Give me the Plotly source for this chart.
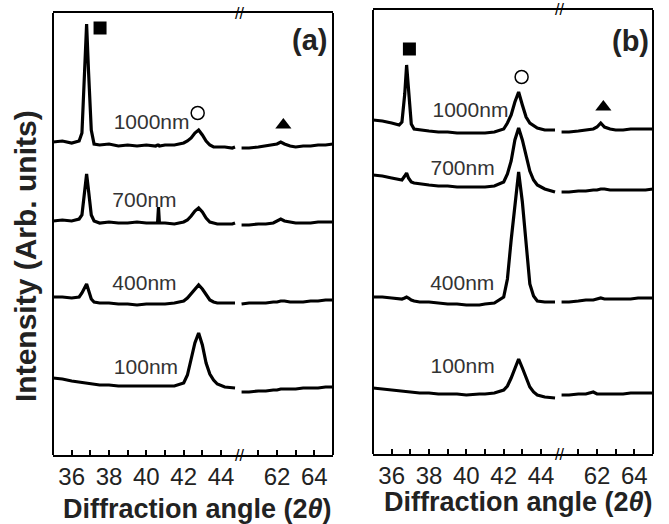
import plotly.graph_objects as go

# ---------------- data (2theta in degrees, intensity in arbitrary units incl. offsets) -------------
X_LEFT = [35.0, 35.5, 36.0, 36.4, 36.55, 36.7, 36.8, 36.9, 37.05, 37.2, 37.5, 38.0, 38.5, 39.0, 39.5,
          40.0, 40.5, 40.6, 40.65, 40.7, 41.0, 41.5, 42.0, 42.2, 42.4, 42.6, 42.8, 43.0, 43.2, 43.4,
          43.6, 43.8, 44.2, 44.6, 44.75]
X_RIGHT = [60.1, 60.5, 61.0, 61.4, 61.8, 62.0, 62.2, 62.4, 62.7, 63.0, 63.4, 63.8, 64.2, 64.6, 65.0]

# panel (a)
A1000_L = [313, 314, 312, 314, 322, 395, 431, 385, 325, 311, 310, 311, 309, 310, 309,
           310, 309, 310, 310, 309, 310, 310, 312, 314, 317, 322, 325, 320, 314, 310,
           308, 308, 308, 307, 308]
A1000_R = [307, 307, 308, 309, 310, 311, 313, 311, 309, 308, 309, 309, 310, 310, 311]
A700_L = [234, 235, 234, 236, 240, 265, 281, 265, 240, 234, 232, 233, 232, 232, 233,
          232, 232, 232, 248, 232, 232, 231, 233, 235, 239, 244, 247, 243, 237, 233,
          232, 231, 231, 231, 232]
A700_R = [230, 230, 231, 231, 232, 234, 236, 234, 233, 232, 232, 232, 233, 233, 233]
A400_L = [158, 158, 157, 158, 162, 168, 171, 165, 156, 153, 152, 152, 151, 151, 150,
          151, 151, 151, 151, 151, 151, 152, 154, 157, 161, 166, 170, 166, 160, 155,
          153, 152, 152, 152, 152]
A400_R = [151, 152, 152, 152, 153, 153, 154, 154, 153, 153, 153, 154, 154, 155, 155]
A100_L = [77, 76, 74, 73, 72, 72, 72, 71, 71, 71, 70, 70, 69, 69, 69,
          69, 69, 69, 69, 69, 69, 69, 72, 80, 96, 112, 122, 110, 92, 81,
          75, 71, 68, 67, 67]
A100_R = [63, 63, 64, 64, 65, 65, 66, 66, 66, 66, 67, 67, 67, 68, 68]

# panel (b)
B1000_L = [334, 333, 331, 329, 332, 360, 389, 362, 330, 325, 324, 323, 322, 322, 321,
           321, 321, 321, 321, 321, 321, 322, 325, 331, 339, 352, 362, 349, 337, 331,
           328, 326, 324, 324, 324]
B1000_R = [322, 322, 323, 324, 325, 327, 331, 327, 325, 324, 324, 325, 325, 325, 325]
B700_L = [279, 278, 276, 274, 274, 278, 281, 276, 272, 271, 270, 269, 268, 268, 267,
          267, 267, 267, 267, 267, 267, 268, 272, 280, 293, 314, 326, 314, 298, 283,
          274, 269, 265, 263, 262]
B700_R = [262, 262, 263, 263, 264, 264, 265, 265, 264, 264, 264, 264, 264, 264, 265]
B400_L = [157, 157, 156, 155, 155, 156, 157, 156, 154, 153, 152, 152, 151, 150, 150,
          149, 149, 149, 149, 149, 150, 151, 157, 175, 214, 252, 282, 252, 210, 170,
          158, 153, 152, 152, 152]
B400_R = [152, 152, 153, 154, 154, 155, 156, 155, 155, 155, 155, 155, 156, 156, 156]
B100_L = [66, 65, 64, 63, 63, 62, 62, 62, 62, 61, 61, 61, 60, 60, 60,
          59, 60, 60, 60, 60, 60, 61, 64, 68, 76, 86, 95, 86, 76, 67,
          62, 59, 57, 56, 56]
B100_R = [59, 59, 60, 60, 62, 60, 60, 60, 60, 60, 60, 61, 61, 61, 61]

SAMPLE_LABELS = ["1000nm", "700nm", "400nm", "100nm"]
A_LABEL_X = [40.28, 39.9, 39.9, 39.98]
A_LABEL_Y = [331, 253, 170, 86]
B_LABEL_X = [40.22, 39.8, 39.78, 39.8]
B_LABEL_Y = [342, 284, 169, 86]

# phase markers: square (left seg), circle (left seg), triangle (right seg)
A_SQUARE = [37.52, 427]
A_CIRCLE = [42.75, 342]
A_TRIANGLE = [62.34, 330]
B_SQUARE = [36.95, 405]
B_CIRCLE = [42.96, 377]
B_TRIANGLE = [62.34, 347]

TICKS_LEFT = [36, 37, 38, 39, 40, 41, 42, 43, 44]
TICKS_RIGHT = [61, 62, 63, 64]

# ---------------- figure -------------
W, H = 669, 524
FONT = "Arial, Liberation Sans, Helvetica, sans-serif"
fig = go.Figure()

panels = [
    dict(xl="x", xr="x2", y="y",
         left=[A1000_L, A700_L, A400_L, A100_L], right=[A1000_R, A700_R, A400_R, A100_R],
         lx=A_LABEL_X, ly=A_LABEL_Y, sq=A_SQUARE, ci=A_CIRCLE, tr=A_TRIANGLE),
    dict(xl="x3", xr="x4", y="y2",
         left=[B1000_L, B700_L, B400_L, B100_L], right=[B1000_R, B700_R, B400_R, B100_R],
         lx=B_LABEL_X, ly=B_LABEL_Y, sq=B_SQUARE, ci=B_CIRCLE, tr=B_TRIANGLE),
]

for p in panels:
    for yl, yr in zip(p["left"], p["right"]):
        fig.add_trace(go.Scatter(x=X_LEFT, y=yl, xaxis=p["xl"], yaxis=p["y"], mode="lines",
                                 line=dict(color="black", width=3.2), showlegend=False))
        fig.add_trace(go.Scatter(x=X_RIGHT, y=yr, xaxis=p["xr"], yaxis=p["y"], mode="lines",
                                 line=dict(color="black", width=3.2), showlegend=False))
    fig.add_trace(go.Scatter(x=p["lx"], y=p["ly"], text=SAMPLE_LABELS, mode="text",
                             xaxis=p["xl"], yaxis=p["y"],
                             textfont=dict(family=FONT, size=21, color="#333333"),
                             showlegend=False))
    fig.add_trace(go.Scatter(x=[p["sq"][0]], y=[p["sq"][1]], xaxis=p["xl"], yaxis=p["y"], mode="markers",
                             marker=dict(symbol="square", size=13, color="black"), showlegend=False))
    fig.add_trace(go.Scatter(x=[p["ci"][0]], y=[p["ci"][1]], xaxis=p["xl"], yaxis=p["y"], mode="markers",
                             marker=dict(symbol="circle-open", size=13, color="black",
                                         line=dict(width=1.5, color="black")), showlegend=False))
    fig.add_trace(go.Scatter(x=[p["tr"][0]], y=[p["tr"][1]], xaxis=p["xr"], yaxis=p["y"], mode="markers",
                             marker=dict(symbol="triangle-up", size=14, color="black"), showlegend=False))


def px(v):
    return v / W


def py(v):
    return 1 - v / H


common_x = dict(showline=True, linecolor="black", linewidth=2, mirror=True, showgrid=False,
                zeroline=False, ticks="inside", ticklen=5, tickwidth=1.5, tickcolor="black",
                ticklabelstandoff=-1,
                tickfont=dict(family=FONT, size=24, color="#222222"), fixedrange=True)

left_text = [str(t) if t % 2 == 0 else "" for t in TICKS_LEFT]
right_text = [str(t) if t % 2 == 0 else "" for t in TICKS_RIGHT]

ya_dom = [py(455), py(13)]
yb_dom = [py(454), py(10)]

fig.update_layout(
    width=W, height=H, margin=dict(l=0, r=0, t=0, b=0),
    paper_bgcolor="white", plot_bgcolor="white",
    xaxis=dict(domain=[px(53), px(239.7)], range=[35, 45], anchor="y",
               tickvals=TICKS_LEFT, ticktext=left_text, **common_x),
    xaxis2=dict(domain=[px(239.7), px(333)], range=[60, 65], anchor="y",
                tickvals=TICKS_RIGHT, ticktext=right_text, **common_x),
    xaxis3=dict(domain=[px(373), px(559.7)], range=[35, 45], anchor="y2",
                tickvals=TICKS_LEFT, ticktext=left_text, **common_x),
    xaxis4=dict(domain=[px(559.7), px(653)], range=[60, 65], anchor="y2",
                tickvals=TICKS_RIGHT, ticktext=right_text, **common_x),
    yaxis=dict(domain=ya_dom, range=[0, 442], showticklabels=False, ticks="", showgrid=False,
               zeroline=False, showline=False, anchor="x", fixedrange=True),
    yaxis2=dict(domain=yb_dom, range=[0, 444], showticklabels=False, ticks="", showgrid=False,
                zeroline=False, showline=False, anchor="x3", fixedrange=True),
)

# vertical frame lines
for xr_, yr_, xv in [("x domain", "y domain", 0), ("x2 domain", "y domain", 1),
                     ("x3 domain", "y2 domain", 0), ("x4 domain", "y2 domain", 1)]:
    fig.add_shape(type="line", xref=xr_, yref=yr_, x0=xv, x1=xv, y0=0, y1=1,
                  line=dict(color="black", width=2))

# axis break marks
for bx, ytop, ybot in [(239.7, 13, 455), (559.7, 10, 454)]:
    for yy in (ytop, ybot):
        fig.add_annotation(x=px(bx), y=py(yy), xref="paper", yref="paper", text="//",
                           showarrow=False, font=dict(family=FONT, size=16, color="black"),
                           xanchor="center", yanchor="middle", bgcolor="rgba(0,0,0,0)")

# panel letters
fig.add_annotation(x=px(309), y=py(40), xref="paper", yref="paper", text="<b>(a)</b>",
                   showarrow=False, font=dict(family=FONT, size=29, color="#222222"),
                   xanchor="center", yanchor="middle")
fig.add_annotation(x=px(630), y=py(41), xref="paper", yref="paper", text="<b>(b)</b>",
                   showarrow=False, font=dict(family=FONT, size=29, color="#222222"),
                   xanchor="center", yanchor="middle")

# axis titles
fig.add_annotation(x=px(26), y=py(256), xref="paper", yref="paper",
                   text="<b>Intensity (Arb. units)</b>", textangle=-90, showarrow=False,
                   font=dict(family=FONT, size=30, color="#222222"),
                   xanchor="center", yanchor="middle")
fig.add_annotation(x=px(197.5), y=py(509), xref="paper", yref="paper",
                   text="<b>Diffraction angle (2<i>θ</i>)</b>", showarrow=False,
                   font=dict(family=FONT, size=27, color="#222222"),
                   xanchor="center", yanchor="middle")
fig.add_annotation(x=px(518), y=py(502), xref="paper", yref="paper",
                   text="<b>Diffraction angle (2<i>θ</i>)</b>", showarrow=False,
                   font=dict(family=FONT, size=27, color="#222222"),
                   xanchor="center", yanchor="middle")

fig.write_html("out.html", config={"displayModeBar": False},
               post_script="document.body.style.margin='0px';document.body.style.overflow='hidden';")
